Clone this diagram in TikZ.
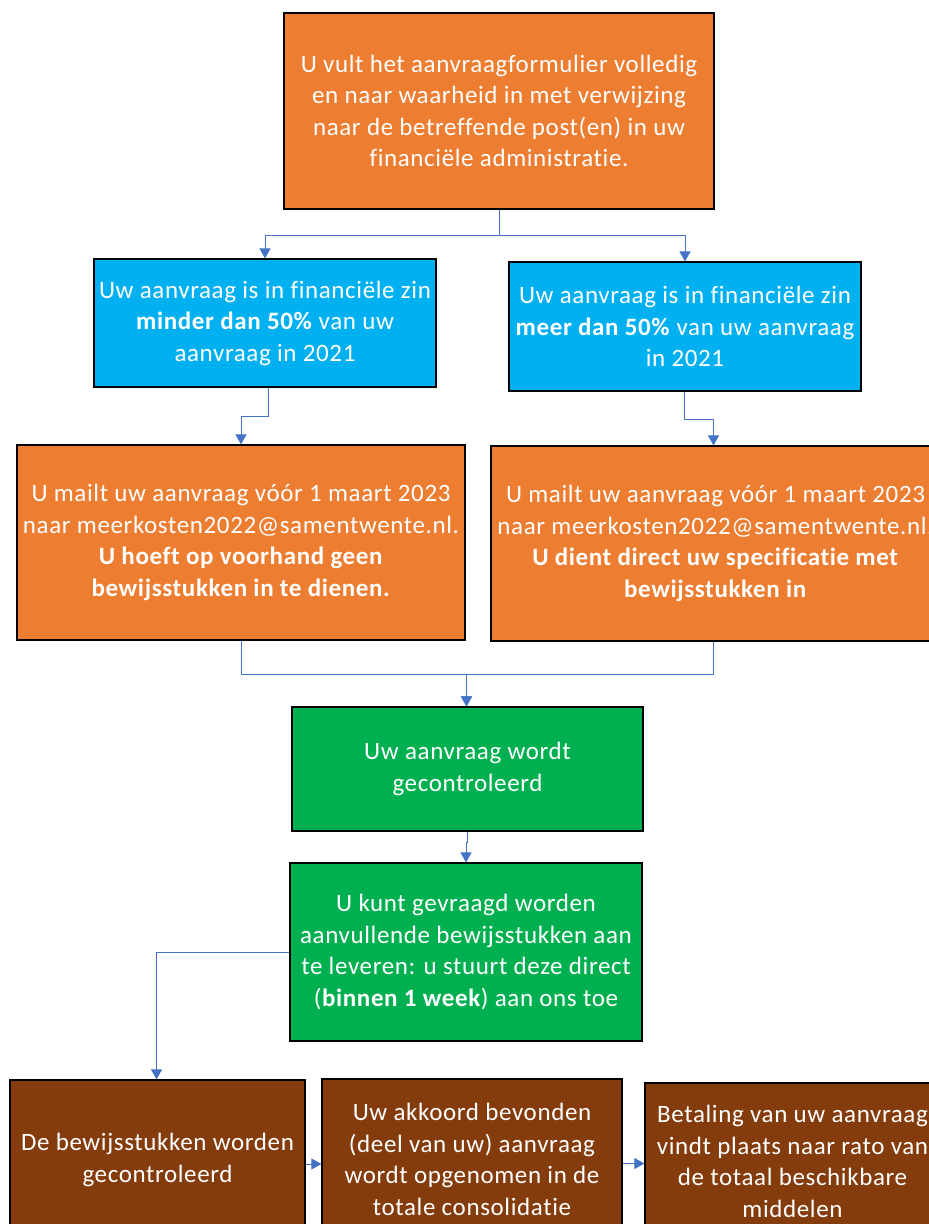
\documentclass[tikz,border=0pt]{standalone}
\usepackage{fontspec}
\setmainfont{Carlito}[LetterSpace=2.5,Ligatures={NoCommon}]
\usetikzlibrary{arrows.meta,positioning}

\definecolor{stapOranje}{HTML}{ED7D31}
\definecolor{stapBlauw}{HTML}{00B0F0}
\definecolor{stapGroen}{HTML}{00B050}
\definecolor{stapBruin}{HTML}{843C0C}
\definecolor{lijnBlauw}{HTML}{4472C4}

\tikzset{
	stap/.style={draw=black, line width=1.2pt, text=white, align=center, inner sep=0pt,
		font=\fontsize{25}{31.5}\selectfont, execute at begin node={\rule{0pt}{29pt}}},
	pijl/.style={draw=lijnBlauw, line width=1pt, -{Triangle[width=11pt,length=10pt]}}
}

\begin{document}
\begin{tikzpicture}[x=1pt,y=-1pt]
	
	\useasboundingbox (0,0) rectangle (929,1224);
	\clip (0,0) rectangle (929,1224);
	
	\node [stap, fill=stapOranje, minimum width=430pt, minimum height=196pt] (formulier) at (499,111)
	{U vult het aanvraagformulier volledig\\ en naar waarheid in met verwijzing\\ naar de betreffende post(en) in uw\\ financiële administratie.};
	
	\node [stap, fill=stapBlauw, minimum width=342pt, minimum height=128pt] (minder) at (265,323)
	{Uw aanvraag is in financiële zin\\ \textbf{minder dan 50\%} van uw\\ aanvraag in 2021};
	
	\node [stap, fill=stapBlauw, minimum width=352pt, minimum height=129pt] (meer) at (685,326.5)
	{Uw aanvraag is in financiële zin\\ \textbf{meer dan 50\%} van uw aanvraag\\ in 2021};
	
	\node [stap, fill=stapOranje, minimum width=448pt, minimum height=195pt] (mailzonder) at (241,542.5)
	{U mailt uw aanvraag vóór 1 maart 2023\\ naar meerkosten2022@samentwente.nl.\\ \textbf{U hoeft op voorhand geen}\\ \textbf{bewijsstukken in te dienen.}};
	
	\node [stap, fill=stapOranje, minimum width=449pt, minimum height=195pt] (mailmet) at (715.5,543.5)
	{U mailt uw aanvraag vóór 1 maart 2023\\ naar meerkosten2022@samentwente.nl.\\ \textbf{U dient direct uw specificatie met}\\ \textbf{bewijsstukken in}};
	
	\node [stap, fill=stapGroen, minimum width=351pt, minimum height=124pt] (controle) at (467.5,769)
	{Uw aanvraag wordt\\ gecontroleerd};
	
	\node [stap, fill=stapGroen, minimum width=352pt, minimum height=178pt] (aanvullend) at (466,952)
	{U kunt gevraagd worden\\ aanvullende bewijsstukken aan\\ te leveren: u stuurt deze direct\\ (\textbf{binnen 1 week}) aan ons toe};
	
	\node [stap, fill=stapBruin, minimum width=295pt, minimum height=160pt] (bewijs) at (157.5,1160)
	{De bewijsstukken worden\\ gecontroleerd};
	
	\node [stap, fill=stapBruin, minimum width=300pt, minimum height=161pt] (akkoord) at (472,1159.5)
	{Uw akkoord bevonden\\ (deel van uw) aanvraag\\ wordt opgenomen in de\\ totale consolidatie};
	
	\node [stap, fill=stapBruin, minimum width=295pt, minimum height=157pt] (betaling) at (792.5,1161.5)
	{Betaling van uw aanvraag\\ vindt plaats naar rato van\\ de totaal beschikbare\\ middelen};
	
	% verbindingen
	\draw [pijl] (formulier.south) -- ++(0,26) -| (minder.north);
	\draw [pijl] (formulier.south) -- ++(0,26) -| (meer.north);
	
	\draw [pijl] ([xshift=3pt]minder.south) -- ++(0,29) -| (mailzonder.north);
	\draw [pijl] ([xshift=-1pt]meer.south) -- ++(0,28) -| ([xshift=-2pt]mailmet.north);
	
	\draw [pijl] (mailzonder.south) -- ++(0,34) -| ([xshift=-1pt]controle.north);
	\draw [pijl] ([xshift=-2pt]mailmet.south) -- ++(0,33) -| ([xshift=-1pt]controle.north);
	
	\draw [pijl] (controle.south) -- ++(0,11) -| (aanvullend.north);
	
	\draw [pijl] (aanvullend.west) -| ([xshift=-1pt]bewijs.north);
	
	\draw [pijl] ([yshift=-4pt]bewijs.east) -- ([yshift=-4pt]bewijs.east -| akkoord.west);
	\draw [pijl] ([yshift=-4pt]akkoord.east) -- ([yshift=-4pt]akkoord.east -| betaling.west);
	
\end{tikzpicture}
\end{document}
